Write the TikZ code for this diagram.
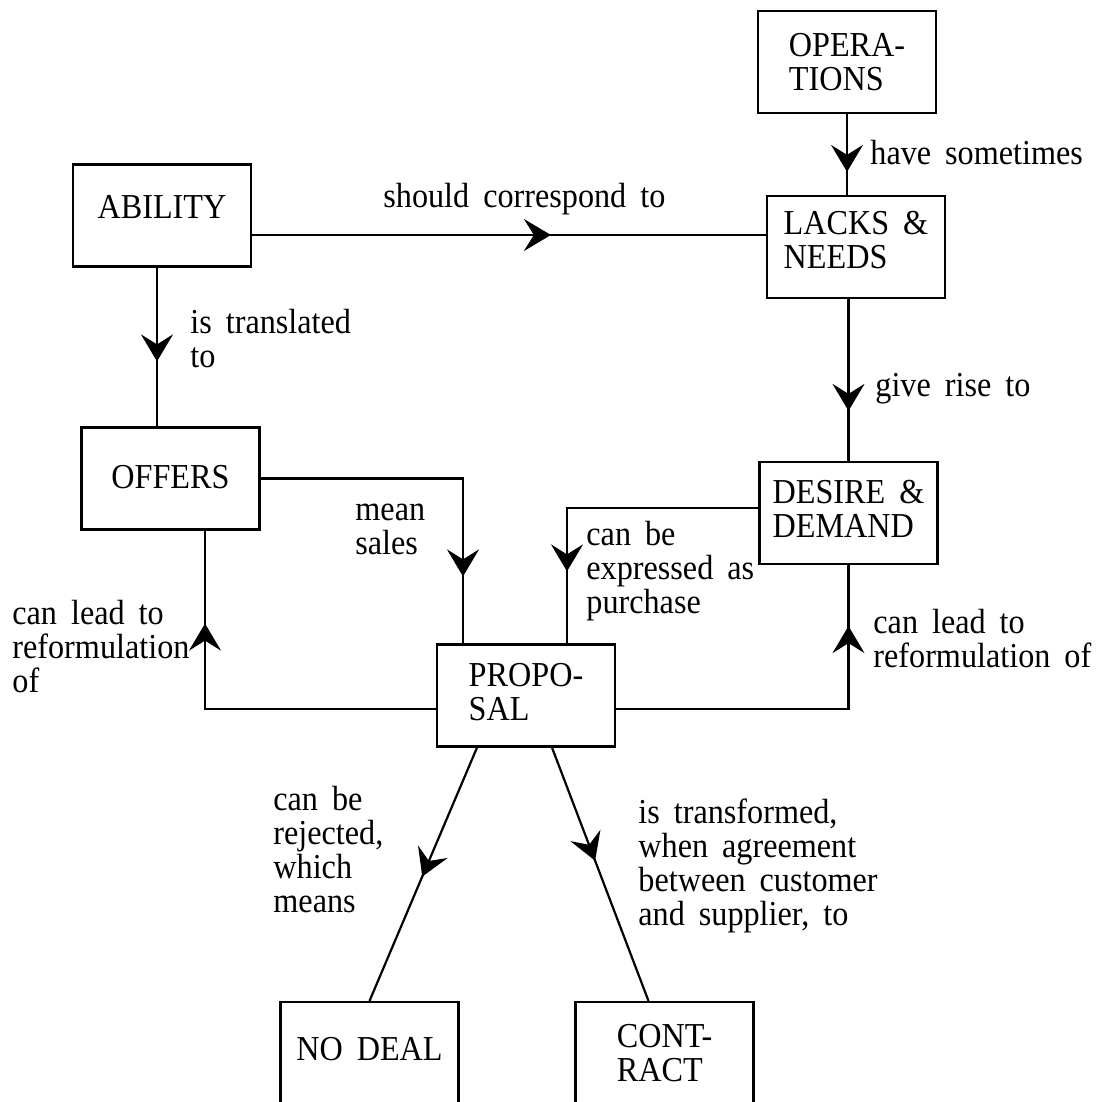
\documentclass[tikz,border=0pt]{standalone}
\usepackage{fontspec}
\setmainfont{Liberation Serif}
\newfontfamily\condserif{Liberation Serif}[FakeStretch=0.92]
\usetikzlibrary{arrows.meta,decorations.markings,calc}
\newcommand\myboxfont{\condserif\fontsize{17.5}{17}\selectfont\spaceskip=0.4em\relax}
\newcommand\mylblfont{\condserif\fontsize{17.5}{17}\selectfont\spaceskip=0.4em\relax}
\tikzset{
  box/.style={draw, line width=1.1pt, inner sep=0pt, minimum width=89pt, minimum height=51pt,
    align=left, font=\myboxfont},
  onebox/.style={box, text depth=8.5pt},
  conn/.style={line width=1.1pt},
  tipat/.style={postaction={decorate, decoration={markings,
    mark=at position #1 with {\arrow{Stealth[length=13.5pt,width=16pt,inset=5pt]}}}}},
  lbl/.style={inner sep=0pt, anchor=base west, align=left, font=\mylblfont}
}
\begin{document}
\begin{tikzpicture}[x=0.5pt,y=-0.5pt]
\useasboundingbox (0,0) rectangle (1098,1102);
\fill[white] (0,0) rectangle (1098,1102);
\clip (0,0) rectangle (1098,1102);

% boxes
\node[box] (ops) at (847,62) {OPERA-\\TIONS};
\node[box, text depth=7pt] (lacks) at (856,247) {LACKS \&\\NEEDS};
\node[onebox] (ability) at (162,215.5) {ABILITY};
\node[onebox, text depth=2pt] (offers) at (170.5,478.5) {OFFERS};
\node[box, text depth=4pt] (desire) at (848.5,513) {DESIRE \&\\DEMAND};
\node[box, text depth=4pt] (proposal) at (526,695.5) {PROPO-\\SAL};
\node[onebox, text depth=4.5pt] (nodeal) at (369.5,1053) {NO DEAL};
\node[box] (contract) at (664.5,1053) {CONT-\\RACT};

% helper coordinates on box borders
\coordinate (abS) at ($(ability.south)+(-5,0)$);
\coordinate (abE) at ($(ability.east)+(0,19.5)$);
\coordinate (prN1) at ($(proposal.north)+(-63,0)$);
\coordinate (prN2) at ($(proposal.north)+(41,0)$);
\coordinate (deW) at ($(desire.west)+(0,-5)$);
\coordinate (prW) at ($(proposal.west)+(0,13.5)$);
\coordinate (prE) at ($(proposal.east)+(0,13.5)$);
\coordinate (ofS) at ($(offers.south)+(34.5,0)$);
\coordinate (prS1) at ($(proposal.south)+(-49,0)$);
\coordinate (prS2) at ($(proposal.south)+(26,0)$);
\coordinate (coN) at ($(contract.north)+(-16,0)$);

% connectors
\draw[conn,tipat=-11.5pt] (ops.south) -- (ops.south |- lacks.north);
\draw[conn,tipat=-107.5pt] (abE) -- (abE -| lacks.west);
\draw[conn,tipat=-32.5pt] (abS) -- (abS |- offers.north);
\draw[conn,tipat=-25pt] (desire.north |- lacks.south) -- (desire.north);
\draw[conn,tipat=-33.5pt] (offers.east) -| (prN1);
\draw[conn,tipat=-36pt] (deW) -| (prN2);
\draw[conn,tipat=-46.5pt] (prW) -| (ofS);
\draw[conn,tipat=-30.5pt] (prE) -| (desire.south);
\draw[conn,tipat=-67.5pt] (prS1) -- (nodeal.north);
\draw[conn,tipat=-75pt] (prS2) -- (coN);

% labels (anchor = baseline of the last line)
\node[lbl] (t1) at (870,164) {have sometimes};
\node[lbl] (t2) at (383,207) {should correspond to};
\node[lbl] (t3) at (190,367) {is translated\\to};
\node[lbl] (t4) at (875,396) {give rise to};
\node[lbl] (t5) at (355,554) {mean\\sales};
\node[lbl] (t6) at (586,613) {can be\\expressed as\\purchase};
\node[lbl] (t7) at (12,692) {can lead to\\reformulation\\of};
\node[lbl] (t8) at (873,667) {can lead to\\reformulation of};
\node[lbl] (t9) at (273,912) {can be\\rejected,\\which\\means};
\node[lbl] (t10) at (638,925) {is transformed,\\when agreement\\between customer\\and supplier, to};
\end{tikzpicture}
\end{document}
